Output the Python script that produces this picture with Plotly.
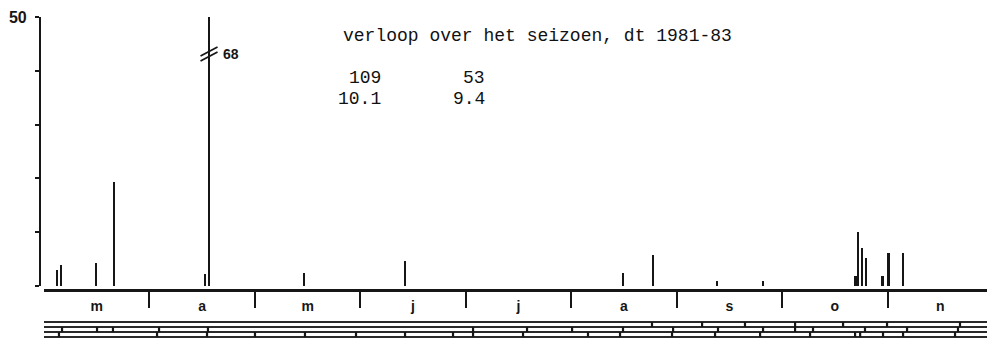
import plotly.graph_objects as go

# ---------------- data ----------------
months = ["m", "a", "m", "j", "j", "a", "s", "o", "n"]
month_mids = [0.5, 1.5, 2.5, 3.5, 4.5, 5.5, 6.5, 7.5, 8.5]
month_bounds = [1, 2, 3, 4, 5, 6, 7, 8, 9]

# position of each catch, in months since 1 March, and number caught
bar_pos = [0.123, 0.161, 0.493, 0.664, 1.527, 1.565, 2.466, 3.424, 5.491, 5.776,
           6.383, 6.819, 7.692, 7.720, 7.758, 7.796, 7.948, 8.005, 8.147]
bar_val = [3.0, 3.9, 4.3, 19.3, 2.2, 68, 2.4, 4.6, 2.4, 5.7,
           1.0, 1.0, 1.8, 10.0, 7.0, 5.2, 1.8, 6.1, 6.1]

y_tickvals = [0, 10, 20, 30, 40, 50]
y_ticktext = ["", "", "", "", "", "<b>50</b>"]
y_max = 50
break_at = 43.5        # where the off-scale bar is drawn broken
off_scale_label = "68"

title_text = "verloop over het seizoen, dt 1981-83"
stat_row1 = ["109", "53"]
stat_row2 = ["10.1", "9.4"]

# sampling-period strip: one row per year, separators in months since 1 March
strip_lines = [0, 1, 2, 3]
row_top_ticks = [5.766, 6.241, 6.648, 7.123, 7.578, 7.995, 8.687]
row_mid_ticks = [0.171, 0.503, 0.654, 1.091, 1.555, 4.069, 4.581, 5.008, 5.491,
                 5.966, 6.392, 6.819, 7.123, 7.293, 7.786, 8.185, 8.668]
row_low_ticks = [0.142, 1.072, 1.546, 2.001, 2.475, 2.959, 3.424, 3.879, 4.069,
                 4.543, 5.159, 5.463, 5.956, 6.364, 6.791, 7.265, 7.692, 7.740,
                 7.957, 8.147, 8.640]
strip_rows = [(2, row_top_ticks), (1, row_mid_ticks), (0, row_low_ticks)]

INK = "#161616"
OFF = 8                      # page body margin around the figure
W, H = 995 - OFF, 340 - OFF
ML, MR, MT, MB = 32, 2, 9, 2
PW, PH = W - ML - MR, H - MT - MB

fig = go.Figure()

fig.add_trace(go.Bar(x=bar_pos, y=bar_val, width=0.027,
                     marker=dict(color=INK, line=dict(width=0)),
                     showlegend=False, hoverinfo="x+y"))

# strip
sx, sy = [], []
for lv in strip_lines:
    sx += [0, 9, None]
    sy += [lv, lv, None]
fig.add_trace(go.Scatter(x=sx, y=sy, mode="lines", xaxis="x", yaxis="y2",
                         line=dict(color="#2a2a2a", width=1.8),
                         showlegend=False, hoverinfo="skip"))
tx, ty = [], []
for lo, ticks in strip_rows:
    for t in ticks:
        tx += [t, t, None]
        ty += [lo, lo + 1, None]
fig.add_trace(go.Scatter(x=tx, y=ty, mode="lines", xaxis="x", yaxis="y2",
                         line=dict(color=INK, width=2.2),
                         showlegend=False, hoverinfo="skip"))

# break mark on the off-scale bar
big_i = bar_val.index(max(bar_val))
bx = bar_pos[big_i]
dx = 8.5 / 105.4
dy = 1 / 5.4
for off in (0, 5):
    fig.add_shape(type="line", xref="x", yref="y",
                  x0=bx - dx, y0=break_at + (-4 - off) * dy,
                  x1=bx + dx, y1=break_at + (5 - off) * dy,
                  line=dict(color=INK, width=1.8))
fig.add_annotation(x=bx, y=break_at - 0.3, xref="x", yref="y", text="<b>" + off_scale_label + "</b>",
                   showarrow=False, xanchor="left", yanchor="middle", xshift=12,
                   font=dict(family="Liberation Sans", size=14, color=INK))

mono = dict(family="Liberation Mono", size=18, color="#111111")
def px_x(p):
    return (p - OFF - ML) / PW
def px_y(p):
    return (H + OFF - MB - p) / PH

fig.add_annotation(x=px_x(341), y=px_y(36), xref="paper", yref="paper", text=title_text,
                   showarrow=False, xanchor="left", yanchor="middle", font=mono)
for col, right in enumerate((383, 487)):
    fig.add_annotation(x=px_x(right), y=px_y(78), xref="paper", yref="paper", text=stat_row1[col],
                       showarrow=False, xanchor="right", yanchor="middle", font=mono)
    fig.add_annotation(x=px_x(right), y=px_y(99), xref="paper", yref="paper", text=stat_row2[col],
                       showarrow=False, xanchor="right", yanchor="middle", font=mono)

fig.update_layout(
    width=W, height=H, autosize=False,
    margin=dict(l=ML, r=MR, t=MT, b=MB, pad=0, autoexpand=False),
    paper_bgcolor="white", plot_bgcolor="white",
    bargap=0,
    xaxis=dict(domain=[4 / PW, 1], range=[0, 9], anchor="free", position=48 / PH,
               automargin=False,
               showline=True, linewidth=2.5, linecolor=INK, showgrid=False, zeroline=False,
               tickmode="array", tickvals=month_mids, ticktext=["<b>" + m + "</b>" for m in months],
               ticks="", ticklabelstandoff=2,
               tickfont=dict(family="Liberation Sans", size=14, color=INK),
               minor=dict(ticks="outside", tickmode="array", tickvals=month_bounds,
                          ticklen=16, tickwidth=2, tickcolor=INK, showgrid=False)),
    yaxis=dict(domain=[52 / PH, 1], range=[0, y_max], anchor="free", position=0,
               automargin=False,
               showline=True, linewidth=2.2, linecolor=INK, showgrid=False, zeroline=False,
               tickmode="array", tickvals=y_tickvals, ticktext=y_ticktext,
               ticks="outside", ticklen=4, tickwidth=1.5, tickcolor=INK,
               tickfont=dict(family="Liberation Sans", size=16, color=INK), ticklabelstandoff=5),
    yaxis2=dict(domain=[0, 20 / PH], range=[-0.2, 3.8], anchor="free", position=0,
                automargin=False, visible=False, showgrid=False, zeroline=False),
)

fig.write_html("out.html")
